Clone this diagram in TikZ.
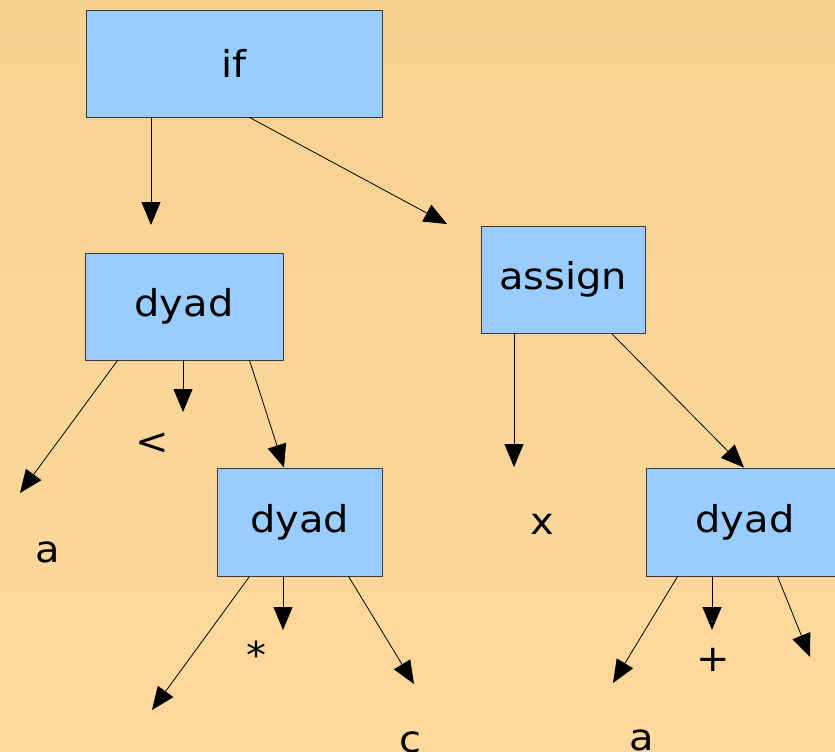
\documentclass[tikz,border=0pt]{standalone}
\usepackage{fontspec}
\setmainfont{DejaVu Sans}[FakeStretch=1.08]
\usetikzlibrary{arrows.meta,calc}
\definecolor{boxfill}{HTML}{99CCFF}
\definecolor{boxline}{HTML}{3A3A3A}
\definecolor{bgtop}{HTML}{F7D291}
\definecolor{bgbot}{HTML}{FDD99E}
\begin{document}
\begin{tikzpicture}[x=1pt,y=-1pt,
  box/.style={draw=boxline, fill=boxfill, line width=0.9pt, inner sep=0pt,
    font=\fontsize{37}{37}\selectfont},
  lbl/.style={inner sep=0pt, font=\fontsize{37}{37}\selectfont},
  conn/.style={line width=0.8pt, -{Triangle[length=23pt,width=19pt]}}]
\shade[top color=bgtop, bottom color=bgbot] (0,0) rectangle (835,752);
\useasboundingbox (0,0) rectangle (835,752);
\clip (0,0) rectangle (835,752);
% boxes
\node[box, minimum width=296pt, minimum height=107pt] (if) at (234,63.5) {if};
\node[box, minimum width=198pt, minimum height=107pt] (d1) at (184,306.5) {dyad};
\node[box, minimum width=164pt, minimum height=107pt] (as) at (563,279.5) {assign};
\node[box, minimum width=165pt, minimum height=108pt] (d2) at (299.5,522) {dyad};
\node[box, minimum width=198pt, minimum height=108pt] (d3) at (745,522) {dyad};
% labels
\node[lbl] (la1) at (48,552.5) {a};
\node[lbl] (llt) at (152.5,444) {<};
\node[lbl] (lx) at (542.5,524) {x};
\node[lbl] (lst) at (256,654.5) {*};
\node[lbl] (lc) at (410.5,742.5) {c};
\node[lbl] (la2) at (641.5,740.5) {a};
\node[lbl] (lpl) at (713.5,659.5) {+};
% arrow ends
\coordinate (e1) at (151,225);
\coordinate (e2) at (447,224);
\coordinate (e3) at (20,493);
\coordinate (e4) at (183,412);
\coordinate (e5) at (284,467);
\coordinate (e6) at (514,467);
\coordinate (e7) at (744,467);
\coordinate (e8) at (152,710);
\coordinate (e9) at (283,630);
\coordinate (e10) at (414,684);
\coordinate (e11) at (613,683);
\coordinate (e12) at (712,630);
\coordinate (e13) at (810,657);
% connectors
\draw[conn] (if.south west -| e1) -- (e1);
\draw[conn] ($(if.south west)+(164,0)$) -- (e2);
\draw[conn] ($(d1.south west)+(33,0)$) -- (e3);
\draw[conn] (d1.south -| e4) -- (e4);
\draw[conn] ($(d1.south west)+(165,0)$) -- (d2.north -| e5);
\draw[conn] (as.south -| e6) -- (e6);
\draw[conn] ($(as.south west)+(131,0)$) -- (d3.north -| e7);
\draw[conn] ($(d2.south west)+(33,0)$) -- (e8);
\draw[conn] (d2.south -| e9) -- (e9);
\draw[conn] ($(d2.south west)+(132,0)$) -- (e10);
\draw[conn] ($(d3.south west)+(32,0)$) -- (e11);
\draw[conn] (d3.south -| e12) -- (e12);
\draw[conn] ($(d3.south west)+(132,0)$) -- (e13);
\end{tikzpicture}
\end{document}
